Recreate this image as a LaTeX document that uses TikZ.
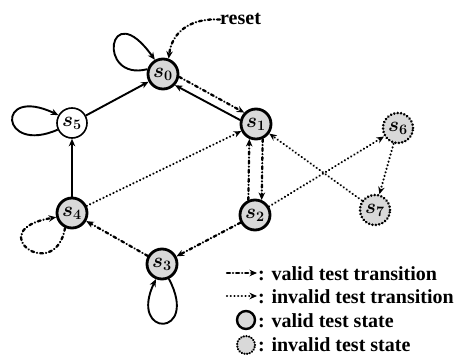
\documentclass[tikz,border=0pt]{standalone}
\usepackage{fontspec}
\setmainfont{Liberation Serif}
\usetikzlibrary{arrows.meta}
\begin{document}
\begin{tikzpicture}[x=1pt,y=-1pt,
 state/.style={circle,draw,line width=1.6pt,minimum size=30pt,inner sep=0pt,font=\fontsize{21}{21}\selectfont\boldmath},
 validst/.style={state,line width=2.8pt,fill=gray!30},
 invalidst/.style={state,line width=2.8pt,fill=gray!30,dash pattern=on 0.1pt off 3.3pt,line cap=round},
 tipst/.style={-{Stealth[length=7.5pt,width=6.5pt]}},
 solidtr/.style={line width=1.9pt,tipst},
 validtr/.style={line width=2.3pt,line cap=round,dash pattern=on 3pt off 3pt on 0.1pt off 3pt,tipst},
 invalidtr/.style={line width=2.3pt,line cap=round,dash pattern=on 0.1pt off 3.6pt,tipst},
 lab/.style={font=\fontsize{20}{24}\selectfont\bfseries,anchor=base west,inner sep=0pt}
]
\useasboundingbox (0,0) rectangle (465,358);

% states
\node[validst]   (s0) at (163,74)  {$s_0$};
\node[validst]   (s1) at (256,124) {$s_1$};
\node[validst]   (s2) at (255,215) {$s_2$};
\node[validst]   (s3) at (162,264) {$s_3$};
\node[validst]   (s4) at (72,213)  {$s_4$};
\node[state]     (s5) at (72,123)  {$s_5$};
\node[invalidst] (s6) at (398,128) {$s_6$};
\node[invalidst] (s7) at (375,210) {$s_7$};

% reset
\node[lab] (reset) at (220,25) {reset};
\draw[validtr] (reset.west) .. controls (190,18) and (172,32) .. (s0.70);

% solid transitions
\draw[solidtr] (s5) -- (s0);
\draw[solidtr] (s4) -- (s5);
\draw[solidtr] (s1.166) -- (s0.-43);
\draw[solidtr] (s0.163) .. controls (96,82) and (108,-6) .. (s0.120);
\draw[solidtr] (s5.205) .. controls (0,155) and (-5,85) .. (s5.150);
\draw[solidtr] (s3.-65) .. controls (200,338) and (128,338) .. (s3.-112);

% valid test transitions
\draw[validtr] (s0.-10) -- (s1.136);
\draw[validtr] (s2.114) -- (s1.-114);
\draw[validtr] (s1.-66) -- (s2.66);
\draw[validtr] (s2) -- (s3);
\draw[validtr] (s3) -- (s4);
\draw[validtr] (s4.-115) .. controls (55,285) and (-20,230) .. (s4.195);

% invalid test transitions
\draw[invalidtr] (s4) -- (s1);
\draw[invalidtr] (s7) -- (s1);
\draw[invalidtr] (s2) -- (s6);
\draw[invalidtr] (s6) -- (s7);

% legend
\coordinate (l1a) at (227,273);
\coordinate (l1b) at (257,273);
\coordinate (l2a) at (227,296);
\coordinate (l2b) at (257,296);
\draw[validtr] (l1a) -- (l1b);
\draw[invalidtr] (l2a) -- (l2b);
\node[validst,minimum size=18pt,line width=2.4pt] (lv) at (246,320) {};
\node[invalidst,minimum size=18pt,line width=2.4pt,dash pattern=on 0.1pt off 2.6pt] (li) at (246,345) {};
\node[lab] (t1) at (258,280) {: valid test transition};
\node[lab] (t2) at (258,303) {: invalid test transition};
\node[lab] (t3) at (258,327) {: valid test state};
\node[lab] (t4) at (258,351) {: invalid test state};
\end{tikzpicture}
\end{document}
